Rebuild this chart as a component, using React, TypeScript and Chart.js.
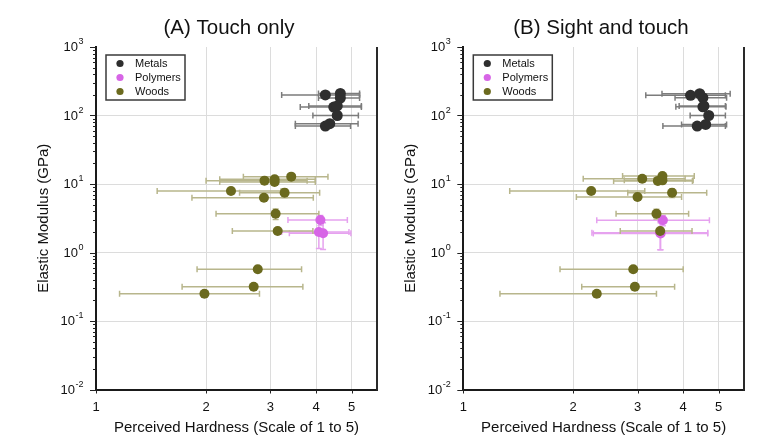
import React, { useEffect, useRef } from "react";
import { Chart, registerables } from "chart.js";

Chart.register(...registerables);

const FONT = "'Liberation Sans', Arial, Helvetica, sans-serif";

// ---------- Data: Panel A (Touch only) ----------
const metalsHardnessA = [4.24, 4.66, 4.66, 4.47, 4.57, 4.57, 4.24, 4.36];
const metalsHardnessErrA = [1.02, 0.6, 0.6, 0.85, 0.75, 0.65, 0.73, 0.85];
const metalsModulusA = [200, 210, 180, 133, 138, 100, 70, 76];

const polymersHardnessA = [4.11, 4.07, 4.18];
const polymersHardnessErrA = [0.76, 0.85, 0.8];
const polymersModulusA = [2.98, 1.99, 1.91];
const polymersModulusErrA = [0.5, 0.85, 0.8];

const woodsHardnessA = [3.42, 2.89, 3.08, 3.08, 2.34, 3.28, 2.88, 3.1, 3.14, 2.77, 2.7, 1.98];
const woodsHardnessErrA = [0.89, 0.89, 0.9, 0.9, 0.87, 0.81, 1.05, 0.97, 0.78, 0.88, 0.98, 0.82];
const woodsModulusA = [12.8, 11.2, 11.7, 10.7, 7.9, 7.46, 6.3, 3.68, 2.06, 0.568, 0.317, 0.25];
const woodsModulusErrA = [0, 0, 0, 0, 0, 1.1, 0, 0.65, 0, 0, 0, 0];

// ---------- Data: Panel B (Sight and touch) ----------
const metalsHardnessB = [4.19, 4.44, 4.53, 4.53, 4.56, 4.7, 4.37, 4.61];
const metalsHardnessErrB = [1.03, 0.94, 0.73, 0.71, 0.66, 0.52, 0.85, 0.65];
const metalsModulusB = [197, 208, 182, 134, 138, 100, 70, 74];

const polymersHardnessB = [3.52, 3.46, 3.47];
const polymersHardnessErrB = [1.2, 1.21, 1.2];
const polymersModulusB = [2.96, 1.95, 1.9];
const polymersModulusErrB = [0.5, 0.85, 0.8];

const woodsHardnessB = [3.51, 3.09, 3.41, 3.51, 2.24, 3.73, 3.0, 3.38, 3.46, 2.92, 2.95, 2.32];
const woodsHardnessErrB = [0.78, 0.96, 0.83, 0.75, 0.9, 0.91, 0.96, 0.76, 0.77, 1.08, 0.84, 1.06];
const woodsModulusB = [13.1, 11.9, 11.1, 11.3, 7.9, 7.46, 6.46, 3.68, 2.06, 0.568, 0.317, 0.25];
const woodsModulusErrB = [0, 0, 0, 0, 0, 1.1, 0, 0.6, 0, 0, 0, 0];

// ---------- Axes ----------
const xTicks = [1, 2, 3, 4, 5];
const yTicks = [0.01, 0.1, 1, 10, 100, 1000];
const yExponents = ["-2", "-1", "0", "1", "2", "3"];
const seriesNames = ["Metals", "Polymers", "Woods"];
const xTitle = "Perceived Hardness (Scale of 1 to 5)";
const yTitle = "Elastic Modulus (GPa)";

const COLORS: Record<string, string> = {
  Metals: "#2e2e2e",
  Polymers: "#d765e6",
  Woods: "#6b6a1e",
};
const ERR_COLORS: Record<string, string> = {
  Metals: "#7c7c7c",
  Polymers: "#e6a2ef",
  Woods: "#b8b68c",
};
const GRID = "#dcdcdc";

function pts(xs: number[], ys: number[]) {
  return xs.map((x, i) => ({ x, y: ys[i] }));
}

const errorBarPlugin = {
  id: "errorBars",
  beforeDatasetsDraw(chart: any) {
    const ctx = chart.ctx;
    const xs = chart.scales.x;
    const ys = chart.scales.y;
    ctx.save();
    ctx.beginPath();
    ctx.rect(chart.chartArea.left, chart.chartArea.top, chart.chartArea.right - chart.chartArea.left, chart.chartArea.bottom - chart.chartArea.top);
    ctx.clip();
    const order = [...chart.data.datasets.keys()].reverse();
    for (const di of order) {
      const ds = chart.data.datasets[di];
      const meta = chart.getDatasetMeta(di);
      ctx.strokeStyle = ds.errColor;
      ctx.lineWidth = 1.5;
      ds.data.forEach((p: any, i: number) => {
        const el = meta.data[i];
        if (!el) return;
        const ex = ds.xErr ? ds.xErr[i] : 0;
        const ey = ds.yErr ? ds.yErr[i] : 0;
        const cap = 3;
        if (ex) {
          const x1 = xs.getPixelForValue(p.x - ex);
          const x2 = xs.getPixelForValue(p.x + ex);
          ctx.beginPath();
          ctx.moveTo(x1, el.y);
          ctx.lineTo(x2, el.y);
          ctx.moveTo(x1, el.y - cap);
          ctx.lineTo(x1, el.y + cap);
          ctx.moveTo(x2, el.y - cap);
          ctx.lineTo(x2, el.y + cap);
          ctx.stroke();
        }
        if (ey) {
          const y1 = ys.getPixelForValue(p.y - ey);
          const y2 = ys.getPixelForValue(p.y + ey);
          ctx.beginPath();
          ctx.moveTo(el.x, y1);
          ctx.lineTo(el.x, y2);
          ctx.moveTo(el.x - cap, y1);
          ctx.lineTo(el.x + cap, y1);
          ctx.moveTo(el.x - cap, y2);
          ctx.lineTo(el.x + cap, y2);
          ctx.stroke();
        }
      });
    }
    ctx.restore();
  },
};

const decorPlugin = {
  id: "decor",
  afterDraw(chart: any, _args: any, opts: any) {
    const ctx = chart.ctx;
    const { left, right, top, bottom } = chart.chartArea;
    const ys = chart.scales.y;
    const xs = chart.scales.x;
    ctx.save();
    // right frame
    ctx.strokeStyle = "#2a2a2a";
    ctx.lineWidth = 2;
    ctx.beginPath();
    ctx.moveTo(right, top);
    ctx.lineTo(right, bottom + 1);
    ctx.stroke();

    // y ticks (major + minor)
    ctx.strokeStyle = "#222";
    ctx.lineWidth = 1;
    for (let n = -2; n <= 3; n++) {
      for (let k = 1; k <= 9; k++) {
        const v = k * Math.pow(10, n);
        if (v > 1000.0001) break;
        const py = Math.round(ys.getPixelForValue(v)) + 0.5;
        const len = k === 1 ? 6 : 3;
        ctx.beginPath();
        ctx.moveTo(left - len, py);
        ctx.lineTo(left, py);
        ctx.stroke();
      }
    }
    // x ticks
    xTicks.forEach((v) => {
      const px = Math.round(xs.getPixelForValue(v)) + 0.5;
      ctx.beginPath();
      ctx.moveTo(px, bottom);
      ctx.lineTo(px, bottom + 4);
      ctx.stroke();
    });

    // y tick labels with superscripts
    ctx.fillStyle = "#111";
    yTicks.forEach((v, i) => {
      const py = ys.getPixelForValue(v);
      const exp = yExponents[i];
      ctx.font = `9px ${FONT}`;
      const ew = ctx.measureText(exp).width;
      const rightEdge = left - 12.5;
      ctx.textAlign = "left";
      ctx.textBaseline = "middle";
      ctx.fillText(exp, rightEdge - ew, py - 5);
      ctx.font = `13px ${FONT}`;
      ctx.textAlign = "right";
      ctx.fillText("10", rightEdge - ew - 0.5, py + 0.5);
    });

    // legend
    const lx = left + 10;
    const ly = top + 8;
    ctx.fillStyle = "#fff";
    ctx.fillRect(lx, ly, 79, 45);
    ctx.strokeStyle = "#3a3a3a";
    ctx.lineWidth = 1.5;
    ctx.strokeRect(lx, ly, 79, 45);
    seriesNames.forEach((name, i) => {
      const cy = ly + 8.5 + i * 14;
      ctx.fillStyle = COLORS[name];
      ctx.beginPath();
      ctx.arc(lx + 14, cy, 3.6, 0, Math.PI * 2);
      ctx.fill();
      ctx.fillStyle = "#111";
      ctx.font = `11px ${FONT}`;
      ctx.textAlign = "left";
      ctx.textBaseline = "middle";
      ctx.fillText(name, lx + 29, cy + 0.5);
    });

    // title
    ctx.fillStyle = "#111";
    ctx.font = `20.5px ${FONT}`;
    ctx.textAlign = "center";
    ctx.textBaseline = "alphabetic";
    ctx.fillText(opts.text, opts.x, 33.5);
    ctx.restore();
  },
};

type PanelCfg = {
  title: string;
  titleX: number;
  offset: number;
  yAxisWidth: number;
  rightPad: number;
  yTitlePad: number;
  metals: [number[], number[], number[]];
  polymers: [number[], number[], number[], number[]];
  woods: [number[], number[], number[], number[]];
};

const panelA: PanelCfg = {
  title: "(A) Touch only",
  titleX: 229,
  offset: 0,
  yAxisWidth: 96,
  rightPad: 8,
  yTitlePad: 35,
  metals: [metalsHardnessA, metalsHardnessErrA, metalsModulusA],
  polymers: [polymersHardnessA, polymersHardnessErrA, polymersModulusA, polymersModulusErrA],
  woods: [woodsHardnessA, woodsHardnessErrA, woodsModulusA, woodsModulusErrA],
};

const panelB: PanelCfg = {
  title: "(B) Sight and touch",
  titleX: 216,
  offset: 385,
  yAxisWidth: 78.3,
  rightPad: 26,
  yTitlePad: 17,
  metals: [metalsHardnessB, metalsHardnessErrB, metalsModulusB],
  polymers: [polymersHardnessB, polymersHardnessErrB, polymersModulusB, polymersModulusErrB],
  woods: [woodsHardnessB, woodsHardnessErrB, woodsModulusB, woodsModulusErrB],
};

function makeConfig(cfg: PanelCfg): any {
  const [mx, mxe, my] = cfg.metals;
  const [px, pxe, py, pye] = cfg.polymers;
  const [wx, wxe, wy, wye] = cfg.woods;
  return {
    type: "scatter",
    data: {
      datasets: [
        {
          label: "Woods",
          data: pts(wx, wy),
          xErr: wxe,
          yErr: wye,
          errColor: ERR_COLORS.Woods,
          backgroundColor: COLORS.Woods,
          borderColor: COLORS.Woods,
          pointRadius: 5,
          pointBorderWidth: 0,
        },
        {
          label: "Polymers",
          data: pts(px, py),
          xErr: pxe,
          yErr: pye,
          errColor: ERR_COLORS.Polymers,
          backgroundColor: COLORS.Polymers,
          borderColor: COLORS.Polymers,
          pointRadius: 5,
          pointBorderWidth: 0,
        },
        {
          label: "Metals",
          data: pts(mx, my),
          xErr: mxe,
          errColor: ERR_COLORS.Metals,
          backgroundColor: COLORS.Metals,
          borderColor: COLORS.Metals,
          pointRadius: 5.5,
          pointBorderWidth: 0,
        },
      ],
    },
    options: {
      responsive: false,
      animation: false,
      devicePixelRatio: 1,
      layout: { padding: { top: 47, left: 0, right: cfg.rightPad, bottom: 0 } },
      plugins: {
        legend: { display: false },
        title: { display: false },
        tooltip: { enabled: false },
        decor: { text: cfg.title, x: cfg.titleX },
      },
      scales: {
        x: {
          type: "logarithmic",
          min: 1,
          max: 5.87,
          afterBuildTicks: (s: any) => {
            s.ticks = xTicks.map((v) => ({ value: v }));
          },
          afterFit: (s: any) => {
            s.height = 58.5;
          },
          ticks: {
            callback: (v: any) => String(v),
            font: { size: 13, family: FONT },
            color: "#111",
            padding: 9.7,
            maxRotation: 0,
            autoSkip: false,
          },
          grid: {
            color: (c: any) => (c.tick && c.tick.value > 1 ? GRID : "rgba(0,0,0,0)"),
            drawTicks: false,
            lineWidth: 1,
          },
          border: { display: true, color: "#1a1a1a", width: 2 },
          title: {
            display: true,
            text: xTitle,
            font: { size: 15, family: FONT },
            color: "#111",
            padding: { top: 0, bottom: 11 },
          },
        },
        y: {
          type: "logarithmic",
          min: 0.01,
          max: 1000,
          afterBuildTicks: (s: any) => {
            s.ticks = yTicks.map((v) => ({ value: v }));
          },
          afterFit: (s: any) => {
            s.width = cfg.yAxisWidth;
          },
          ticks: { display: false },
          grid: {
            color: (c: any) =>
              c.tick && c.tick.value > 0.05 && c.tick.value < 500 ? GRID : "rgba(0,0,0,0)",
            drawTicks: false,
            lineWidth: 1,
          },
          border: { display: true, color: "#1a1a1a", width: 2 },
          title: {
            display: true,
            text: yTitle,
            font: { size: 15, family: FONT },
            color: "#111",
            padding: { top: cfg.yTitlePad, bottom: 0 },
          },
        },
      },
    },
    plugins: [errorBarPlugin, decorPlugin],
  };
}

function Panel({ cfg }: { cfg: PanelCfg }) {
  const ref = useRef<HTMLCanvasElement>(null);
  useEffect(() => {
    if (!ref.current) return;
    const chart = new Chart(ref.current, makeConfig(cfg));
    return () => chart.destroy();
  }, [cfg]);
  return (
    <canvas
      ref={ref}
      width={385}
      height={448}
      style={{ position: "absolute", left: cfg.offset, top: 0, width: 385, height: 448 }}
    />
  );
}

export default function App() {
  return (
    <div
      style={{
        position: "absolute",
        left: 0,
        top: 0,
        width: 770,
        height: 448,
        background: "#fff",
        overflow: "hidden",
      }}
    >
      <Panel cfg={panelA} />
      <Panel cfg={panelB} />
    </div>
  );
}
